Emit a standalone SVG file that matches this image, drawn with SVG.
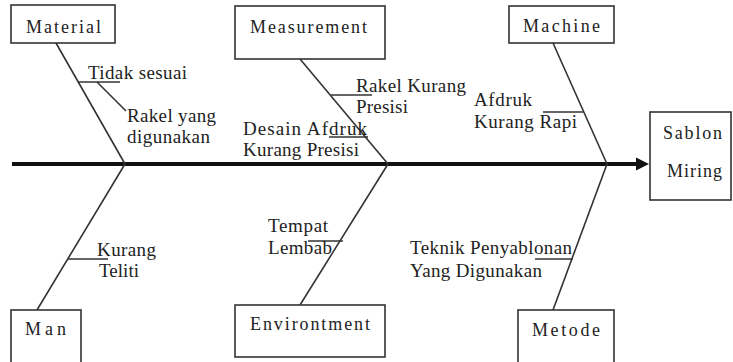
<svg xmlns="http://www.w3.org/2000/svg" width="733" height="362" viewBox="0 0 733 362">
<style>
.box{fill:#fff;stroke:#333;stroke-width:1.6}
.bone{stroke:#333;stroke-width:1.6;fill:none}
text{fill:#222;font-family:"Liberation Serif","DejaVu Serif","Noto Serif",serif}
.t{font-size:19px}
.bt{font-size:18px}
</style>
<rect width="733" height="362" fill="#fff"/>
<g id="connectors">
<line x1="12" y1="164" x2="638" y2="164" stroke="#111" stroke-width="4"/>
<polygon points="636,157.5 649,164 636,170.5" fill="#111"/>
<line class="bone" x1="56" y1="43" x2="125" y2="164"/>
<line class="bone" x1="125" y1="164" x2="37" y2="310"/>
<line class="bone" x1="300" y1="59" x2="388" y2="164"/>
<line class="bone" x1="388" y1="164" x2="300" y2="305"/>
<line class="bone" x1="553" y1="43" x2="607" y2="164"/>
<line class="bone" x1="607" y1="164" x2="553" y2="310"/>
<line class="bone" x1="78" y1="82" x2="120" y2="82"/>
<line class="bone" x1="97" y1="82" x2="126" y2="111"/>
<line class="bone" x1="331" y1="95" x2="372" y2="95"/>
<line class="bone" x1="329" y1="137" x2="368" y2="137"/>
<line class="bone" x1="543" y1="112" x2="583" y2="112"/>
<line class="bone" x1="68" y1="259" x2="108" y2="259"/>
<line class="bone" x1="308" y1="241" x2="343" y2="241"/>
<line class="bone" x1="535" y1="259" x2="573" y2="259"/>
</g>
<g id="material"><rect class="box" x="11" y="5" width="104" height="38"/><text class="bt" x="26" y="33" textLength="75" lengthAdjust="spacing">Material</text></g>
<g id="measurement"><rect class="box" x="235" y="6" width="150" height="53"/><text class="bt" x="250" y="33" textLength="117" lengthAdjust="spacing">Measurement</text></g>
<g id="machine"><rect class="box" x="509" y="6" width="105" height="37"/><text class="bt" x="523" y="32" textLength="77" lengthAdjust="spacing">Machine</text></g>
<g id="sablon"><rect class="box" x="650" y="112" width="81" height="88"/><text class="bt" x="663" y="139" textLength="59" lengthAdjust="spacing">Sablon</text><text class="bt" x="667" y="177" textLength="55" lengthAdjust="spacing">Miring</text></g>
<g id="man"><rect class="box" x="11" y="310" width="70" height="60"/><text class="bt" x="25" y="335" textLength="41" lengthAdjust="spacing">Man</text></g>
<g id="environtment"><rect class="box" x="235" y="305" width="150" height="52"/><text class="bt" x="250" y="330" textLength="120" lengthAdjust="spacing">Environtment</text></g>
<g id="metode"><rect class="box" x="518" y="310" width="96" height="60"/><text class="bt" x="532" y="336" textLength="68" lengthAdjust="spacing">Metode</text></g>
<g id="labels">
<text class="t" x="88" y="79" textLength="99" lengthAdjust="spacing">Tidak sesuai</text>
<text class="t" x="127" y="122" textLength="89" lengthAdjust="spacing">Rakel yang</text>
<text class="t" x="127" y="143" textLength="83" lengthAdjust="spacing">digunakan</text>
<text class="t" x="243" y="135" textLength="124" lengthAdjust="spacing">Desain Afdruk</text>
<text class="t" x="243" y="156" textLength="116" lengthAdjust="spacing">Kurang Presisi</text>
<text class="t" x="356" y="92" textLength="110" lengthAdjust="spacing">Rakel Kurang</text>
<text class="t" x="356" y="113" textLength="52" lengthAdjust="spacing">Presisi</text>
<text class="t" x="474" y="106" textLength="58" lengthAdjust="spacing">Afdruk</text>
<text class="t" x="474" y="128" textLength="103" lengthAdjust="spacing">Kurang Rapi</text>
<text class="t" x="97" y="256" textLength="59" lengthAdjust="spacing">Kurang</text>
<text class="t" x="99" y="277" textLength="40" lengthAdjust="spacing">Teliti</text>
<text class="t" x="268" y="232" textLength="60" lengthAdjust="spacing">Tempat</text>
<text class="t" x="268" y="254" textLength="64" lengthAdjust="spacing">Lembab</text>
<text class="t" x="410" y="254" textLength="162" lengthAdjust="spacing">Teknik Penyablonan</text>
<text class="t" x="410" y="277" textLength="132" lengthAdjust="spacing">Yang Digunakan</text>
</g>
</svg>
